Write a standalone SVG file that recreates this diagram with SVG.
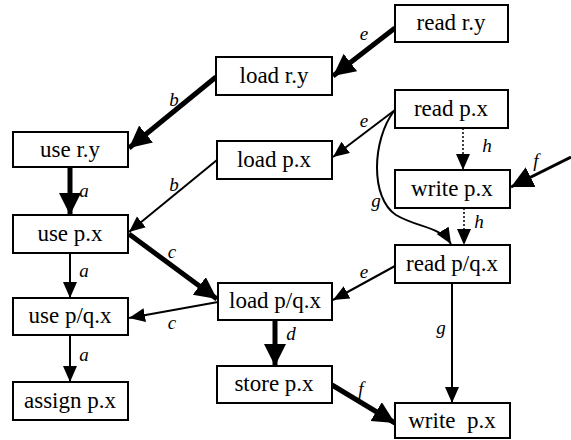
<svg xmlns="http://www.w3.org/2000/svg" width="571" height="440" viewBox="0 0 571 440">
<style>
  .box rect { fill: #fff; stroke: #000; stroke-width: 2; }
  .box text { font-size: 23px; text-anchor: middle; fill: #000; }
  .thick { stroke: #000; stroke-width: 5; fill: none; marker-end: url(#bigArrow); }
  .thin { stroke: #000; stroke-width: 2; fill: none; marker-end: url(#smallArrow); }
  .med { stroke: #000; stroke-width: 3; fill: none; marker-end: url(#bigArrow); }
  .dot { stroke: #000; stroke-width: 1.5; stroke-dasharray: 2 2; fill: none; marker-end: url(#smallArrow); }
  .lbl { font-style: italic; font-size: 19px; fill: #000; text-anchor: middle; }
</style>
<defs>
  <marker id="bigArrow" markerUnits="userSpaceOnUse" markerWidth="24" markerHeight="24" refX="22" refY="11" orient="auto">
    <path d="M0,0 L22,11 L0,22 z" fill="#000"/>
  </marker>
  <marker id="smallArrow" markerUnits="userSpaceOnUse" markerWidth="18" markerHeight="16" refX="16" refY="7" orient="auto">
    <path d="M0,0 L16,7 L0,14 z" fill="#000"/>
  </marker>
</defs>
<rect width="571" height="440" fill="#fff"/>
<g font-family="Liberation Serif, Times New Roman, serif">
<g id="connectors">
  <line class="thick" x1="395" y1="28" x2="333" y2="76"/>
  <line class="thick" x1="216" y1="77" x2="129" y2="148"/>
  <line class="thick" x1="70" y1="167" x2="70" y2="215"/>
  <line class="thin" x1="217" y1="160" x2="129" y2="232"/>
  <line class="thick" x1="129" y1="234" x2="217" y2="299"/>
  <line class="thin" x1="218" y1="302" x2="129" y2="318"/>
  <line class="thin" x1="70" y1="253" x2="70" y2="298"/>
  <line class="thin" x1="70" y1="335" x2="70" y2="382"/>
  <line class="thick" x1="275" y1="320" x2="275" y2="366"/>
  <line class="thick" x1="332" y1="385" x2="395" y2="423"/>
  <line class="thin" x1="395" y1="110" x2="333" y2="157"/>
  <line class="dot" x1="463" y1="128" x2="463" y2="170"/>
  <line class="dot" x1="464" y1="208" x2="464" y2="245"/>
  <path class="thin" d="M394,111 C372,140 370,198 396,215 C418,228 440,226 451,244"/>
  <line class="thin" x1="395" y1="266" x2="333" y2="300"/>
  <line class="thin" x1="452" y1="283" x2="452" y2="403"/>
  <line class="med" x1="571" y1="157" x2="511" y2="187"/>
  <text class="lbl" x="364" y="40">e</text>
  <text class="lbl" x="174" y="106">b</text>
  <text class="lbl" x="84" y="197">a</text>
  <text class="lbl" x="174" y="191">b</text>
  <text class="lbl" x="172" y="258">c</text>
  <text class="lbl" x="172" y="329">c</text>
  <text class="lbl" x="84" y="277">a</text>
  <text class="lbl" x="84" y="361">a</text>
  <text class="lbl" x="291" y="340">d</text>
  <text class="lbl" x="361" y="395">f</text>
  <text class="lbl" x="364" y="127">e</text>
  <text class="lbl" x="487" y="152">h</text>
  <text class="lbl" x="479" y="228">h</text>
  <text class="lbl" x="376" y="207">g</text>
  <text class="lbl" x="364" y="278">e</text>
  <text class="lbl" x="441" y="334">g</text>
  <text class="lbl" x="536" y="167">f</text>
</g>
<g id="read-ry" class="box"><rect x="395" y="5" width="113" height="37"/><text x="451" y="30">read r.y</text></g>
<g id="load-ry" class="box"><rect x="216" y="57" width="116" height="38"/><text x="274" y="83">load r.y</text></g>
<g id="read-px" class="box"><rect x="395" y="90" width="113" height="38"/><text x="451" y="116">read p.x</text></g>
<g id="use-ry" class="box"><rect x="13" y="132" width="115" height="35"/><text x="70" y="157">use r.y</text></g>
<g id="load-px" class="box"><rect x="217" y="141" width="115" height="38"/><text x="274" y="167">load p.x</text></g>
<g id="write-px" class="box"><rect x="395" y="170" width="115" height="38"/><text x="452" y="196">write p.x</text></g>
<g id="use-px" class="box"><rect x="13" y="215" width="115" height="38"/><text x="70" y="241">use p.x</text></g>
<g id="read-pqx" class="box"><rect x="395" y="245" width="115" height="38"/><text x="452" y="271">read p/q.x</text></g>
<g id="load-pqx" class="box"><rect x="218" y="283" width="114" height="37"/><text x="275" y="308">load p/q.x</text></g>
<g id="use-pqx" class="box"><rect x="13" y="298" width="115" height="37"/><text x="70" y="323">use p/q.x</text></g>
<g id="store-px" class="box"><rect x="217" y="366" width="115" height="37"/><text x="274" y="391">store p.x</text></g>
<g id="assign-px" class="box"><rect x="13" y="382" width="115" height="38"/><text x="70" y="408">assign p.x</text></g>
<g id="write-px-2" class="box"><rect x="395" y="403" width="115" height="35"/><text x="452" y="428" xml:space="preserve">write  p.x</text></g>
</g>
</svg>
